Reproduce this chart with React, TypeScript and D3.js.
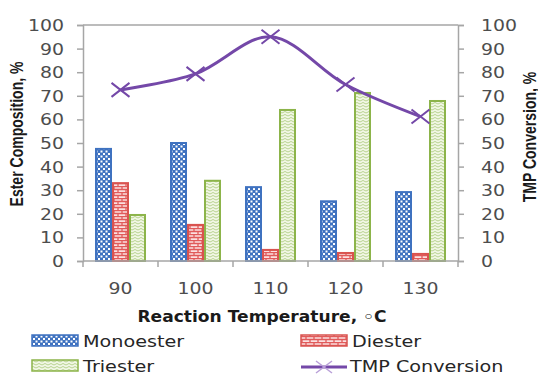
import { useRef, useEffect } from "react";
import * as d3 from "d3";

const CATEGORIES = ["90", "100", "110", "120", "130"];
const MONOESTER = [47.5, 50, 31.3, 25.3, 29.2];
const DIESTER = [33, 15.3, 4.7, 3.4, 3];
const TRIESTER = [19.5, 34, 64, 71.2, 67.8];
const TMP_CONVERSION = [72.5, 79.3, 95, 74.8, 61.2];
const Y_TICKS = [0, 10, 20, 30, 40, 50, 60, 70, 80, 90, 100];

const SERIES = [
  { key: "mono", label: "Monoester", values: MONOESTER, color: "#3f72c0", fill: "url(#pat-mono)" },
  { key: "di", label: "Diester", values: DIESTER, color: "#d9534f", fill: "url(#pat-di)" },
  { key: "tri", label: "Triester", values: TRIESTER, color: "#8cb44a", fill: "url(#pat-tri)" },
];

const LINE_COLOR = "#7448a8";
const AXIS_COLOR = "#a6a6a6";
const TEXT_COLOR = "#4d4d4d";
const FONT = "'DejaVu Sans', Verdana, sans-serif";
const TITLE_FONT = "'Liberation Sans', Arial, sans-serif";

export default function App() {
  const svgRef = useRef<SVGSVGElement>(null);

  useEffect(() => {
    const W = 538;
    const H = 376;
    const m = { top: 25, right: 80, bottom: 115, left: 83 };

    const root = d3.select(svgRef.current);
    root.selectAll("*").remove();
    root.attr("width", W).attr("height", H);

    // patterns
    const defs = root.append("defs");
    const pm = defs.append("pattern").attr("id", "pat-mono").attr("patternUnits", "userSpaceOnUse")
      .attr("width", 5).attr("height", 5);
    pm.append("rect").attr("width", 5).attr("height", 5).attr("fill", "#3f72c0");
    pm.append("rect").attr("x", 0.5).attr("y", 0.5).attr("width", 2).attr("height", 2).attr("fill", "#fff");
    pm.append("rect").attr("x", 3).attr("y", 3).attr("width", 2).attr("height", 2).attr("fill", "#fff");

    const pd = defs.append("pattern").attr("id", "pat-di").attr("patternUnits", "userSpaceOnUse")
      .attr("width", 8).attr("height", 6);
    pd.append("rect").attr("width", 8).attr("height", 6).attr("fill", "#fbe0e0");
    pd.append("path").attr("d", "M0,0.5H8M0,3.5H8M2,0.5V3.5M6,3.5V6")
      .attr("stroke", "#e05a5a").attr("stroke-width", 1.3).attr("fill", "none");

    const pt = defs.append("pattern").attr("id", "pat-tri").attr("patternUnits", "userSpaceOnUse")
      .attr("width", 6).attr("height", 3);
    pt.append("rect").attr("width", 6).attr("height", 3).attr("fill", "#f2f7e6");
    pt.append("path").attr("d", "M0,2L3,0.5L6,2")
      .attr("stroke", "#a8c878").attr("stroke-width", 0.8).attr("fill", "none");

    const x = d3.scaleBand<string>().domain(CATEGORIES)
      .range([m.left, W - m.right]).paddingInner(0.32).paddingOuter(0.16);
    const xSub = d3.scaleBand<string>().domain(SERIES.map((s) => s.key)).range([0, x.bandwidth()]);
    const y = d3.scaleLinear().domain([0, 100]).range([H - m.bottom, m.top]);
    const y2 = d3.scaleLinear().domain([0, 100]).range([H - m.bottom, m.top]);

    const x0 = m.left;
    const x1 = W - m.right;
    const yb = y(0);

    // top border
    root.append("line").attr("x1", x0).attr("x2", x1).attr("y1", y(100)).attr("y2", y(100))
      .attr("stroke", AXIS_COLOR).attr("stroke-width", 1.5);

    // bars
    SERIES.forEach((s) => {
      root.append("g").selectAll("rect").data(s.values).join("rect")
        .attr("x", (_, i) => (x(CATEGORIES[i]) ?? 0) + (xSub(s.key) ?? 0) + 1)
        .attr("y", (d) => y(d))
        .attr("width", xSub.bandwidth() - 2)
        .attr("height", (d) => yb - y(d))
        .attr("fill", s.fill)
        .attr("stroke", s.color)
        .attr("stroke-width", 2);
    });

    // left axis
    root.append("g").attr("transform", `translate(${x0},0)`)
      .call(d3.axisLeft(y).tickValues(Y_TICKS).tickSize(6).tickFormat(() => ""))
      .call((g) => {
        g.selectAll("line, path").attr("stroke", AXIS_COLOR).attr("stroke-width", 1.5);
      });
    // right axis
    root.append("g").attr("transform", `translate(${x1},0)`)
      .call(d3.axisRight(y2).tickValues(Y_TICKS).tickSize(6).tickFormat(() => ""))
      .call((g) => {
        g.selectAll("line, path").attr("stroke", AXIS_COLOR).attr("stroke-width", 1.5);
      });

    // y tick labels (stretched like the original)
    Y_TICKS.forEach((t) => {
      root.append("text").attr("transform", `translate(64,${y(t) + 6}) scale(1.18,1)`)
        .attr("text-anchor", "end").attr("font-family", FONT).attr("font-size", 16)
        .attr("fill", TEXT_COLOR).text(t);
      root.append("text").attr("transform", `translate(481,${y2(t) + 6}) scale(1.18,1)`)
        .attr("text-anchor", "start").attr("font-family", FONT).attr("font-size", 16)
        .attr("fill", TEXT_COLOR).text(t);
    });

    // x axis baseline + boundary ticks
    root.append("line").attr("x1", x0).attr("x2", x1).attr("y1", yb).attr("y2", yb)
      .attr("stroke", AXIS_COLOR).attr("stroke-width", 1.5);
    const gap = (x.step() - x.bandwidth()) / 2;
    const bounds = CATEGORIES.map((c) => (x(c) ?? 0) - gap).concat([x1]);
    bounds.forEach((bx) => {
      root.append("line").attr("x1", bx).attr("x2", bx).attr("y1", yb).attr("y2", yb + 6)
        .attr("stroke", AXIS_COLOR).attr("stroke-width", 1.5);
    });
    CATEGORIES.forEach((c) => {
      const cx = (x(c) ?? 0) + x.bandwidth() / 2;
      root.append("text").attr("transform", `translate(${cx},${yb + 33}) scale(1.18,1)`)
        .attr("text-anchor", "middle").attr("font-family", FONT).attr("font-size", 16)
        .attr("fill", TEXT_COLOR).text(c);
    });

    // line series
    const pts = TMP_CONVERSION.map((v, i) => [(x(CATEGORIES[i]) ?? 0) + x.bandwidth() / 2, y2(v)] as [number, number]);
    root.append("path").attr("d", d3.line().curve(d3.curveCatmullRom.alpha(0.5))(pts))
      .attr("fill", "none").attr("stroke", LINE_COLOR).attr("stroke-width", 3);
    const cross = (cx: number, cy: number, hw: number, hh: number) =>
      `M${cx - hw},${cy - hh}L${cx + hw},${cy + hh}M${cx - hw},${cy + hh}L${cx + hw},${cy - hh}`;
    pts.forEach(([cx, cy]) => {
      root.append("path").attr("d", cross(cx, cy, 9, 7)).attr("stroke", LINE_COLOR).attr("stroke-width", 2);
    });

    // axis titles
    root.append("text").attr("transform", `translate(262,322) scale(1.14,1)`)
      .attr("text-anchor", "middle").attr("font-family", FONT).attr("font-size", 15)
      .attr("font-weight", "bold").attr("fill", "#1a1a1a").text("Reaction Temperature, \u25E6C");
    root.append("text").attr("transform", `translate(23,134) rotate(-90) scale(0.78,1)`)
      .attr("text-anchor", "middle").attr("font-family", TITLE_FONT)
      .attr("font-size", 18).attr("font-weight", "bold").attr("fill", "#1a1a1a").text("Ester Composition, %");
    root.append("text").attr("transform", `translate(536,137) rotate(-90) scale(0.78,1)`)
      .attr("text-anchor", "middle").attr("font-family", TITLE_FONT)
      .attr("font-size", 18).attr("font-weight", "bold").attr("fill", "#1a1a1a").text("TMP Conversion, %");

    // legend
    const legendItems = [
      { ...SERIES[0], lx: 32, ly: 347 },
      { ...SERIES[1], lx: 301, ly: 347 },
      { ...SERIES[2], lx: 32, ly: 372 },
    ];
    legendItems.forEach((it) => {
      root.append("rect").attr("x", it.lx).attr("y", it.ly - 12).attr("width", 46).attr("height", 11)
        .attr("fill", it.fill).attr("stroke", it.color).attr("stroke-width", 1.5);
      root.append("text").attr("transform", `translate(${it.lx + 51},${it.ly}) scale(1.2,1)`)
        .attr("font-family", FONT).attr("font-size", 16).attr("fill", "#262626").text(it.label);
    });
    root.append("line").attr("x1", 301).attr("x2", 347).attr("y1", 367).attr("y2", 367)
      .attr("stroke", LINE_COLOR).attr("stroke-width", 3);
    root.append("path").attr("d", cross(324, 367, 8, 6)).attr("stroke", "#b9a0d8").attr("stroke-width", 1.5);
    root.append("text").attr("transform", `translate(350,372) scale(1.2,1)`)
      .attr("font-family", FONT).attr("font-size", 16).attr("fill", "#262626").text("TMP Conversion");
  }, []);

  return (
    <svg ref={svgRef} style={{ position: "absolute", left: 0, top: 0, display: "block", background: "#fff" }} />
  );
}
